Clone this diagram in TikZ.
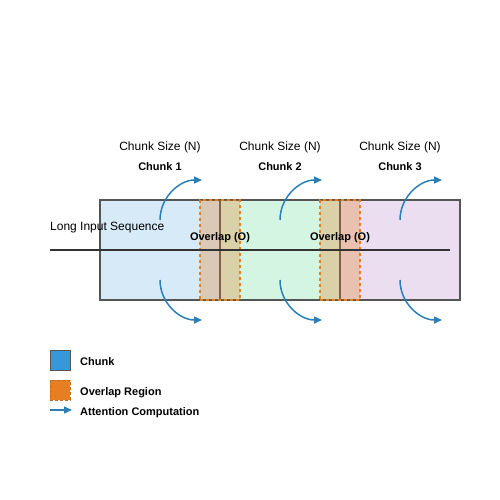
\documentclass[tikz,border=0pt]{standalone}
\usepackage{fontspec}
\setmainfont{Liberation Sans}
\usetikzlibrary{arrows.meta}
\definecolor{cblue}{HTML}{3498DB}
\definecolor{cgreen}{HTML}{2ECC71}
\definecolor{cpurple}{HTML}{9B59B6}
\definecolor{corange}{HTML}{E67E22}
\definecolor{cgray}{HTML}{555555}
\definecolor{cdark}{HTML}{333333}
\definecolor{carrow}{HTML}{2980B9}
\tikzset{
  chunkbox/.style={draw=cgray, line width=1.5pt, minimum width=120pt, minimum height=100pt, inner sep=0pt},
  overlapbox/.style={draw=corange, dash pattern=on 3pt off 3pt, line width=1.5pt, fill=corange, fill opacity=0.3, draw opacity=1, minimum width=40pt, minimum height=100pt, inner sep=0pt},
  attn/.style={draw=carrow, line width=1.5pt, -{Triangle[length=8pt,width=7pt]}},
  sizelbl/.style={font=\fontsize{12}{14}\selectfont, anchor=base, inner sep=0pt},
  chunklbl/.style={font=\fontsize{11}{13}\selectfont\bfseries, anchor=base, inner sep=0pt},
  leglbl/.style={font=\fontsize{11}{13}\selectfont\bfseries, anchor=base west, inner sep=0pt},
}
\begin{document}
\begin{tikzpicture}[x=1pt,y=-1pt]
\useasboundingbox (0,0) rectangle (500,500);
% chunks
\node[chunkbox, fill=cblue!20] (c1) at (160,250) {};
\node[chunkbox, fill=cgreen!20] (c2) at (280,250) {};
\node[chunkbox, fill=cpurple!20] (c3) at (400,250) {};
% overlaps
\node[overlapbox] (o1) at (220,250) {};
\node[overlapbox] (o2) at (340,250) {};
% sequence line
\coordinate (ls) at (50,250);
\coordinate (le) at (450,250);
\draw[cdark, line width=1.5pt] (ls) -- (le);
% labels
\node[font=\fontsize{12}{14}\selectfont, anchor=base west, inner sep=0pt] (lis) at (50,230) {Long Input Sequence};
\node[chunklbl] (ol1) at (220,240) {Overlap (O)};
\node[chunklbl] (ol2) at (340,240) {Overlap (O)};
\foreach \i/\x in {1/160,2/280,3/400}{
  \node[sizelbl] (s\i) at (\x,150) {Chunk Size (N)};
  \node[chunklbl] (n\i) at (\x,170) {Chunk \i};
  \coordinate (ua\i) at (\x,220);
  \coordinate (ub\i) at (\x+42,180);
  \coordinate (da\i) at (\x,280);
  \coordinate (db\i) at (\x+42,320);
  \draw[attn] (ua\i) to[out=90,in=180] (ub\i);
  \draw[attn] (da\i) to[out=-90,in=180] (db\i);
}
% legend
\node[draw=cgray, line width=1pt, fill=cblue, minimum size=20pt, inner sep=0pt] (lg1) at (60,360) {};
\node[leglbl] (lt1) at (80,365) {Chunk};
\node[draw=corange!85!black, dash pattern=on 3pt off 2pt, line width=1pt, fill=corange, minimum size=20pt, inner sep=0pt] (lg2) at (60,390) {};
\node[leglbl] (lt2) at (80,395) {Overlap Region};
\coordinate (la) at (50,410);
\coordinate (lb) at (72,410);
\draw[attn] (la) -- (lb);
\node[leglbl] (lt3) at (80,415) {Attention Computation};
\end{tikzpicture}
\end{document}
